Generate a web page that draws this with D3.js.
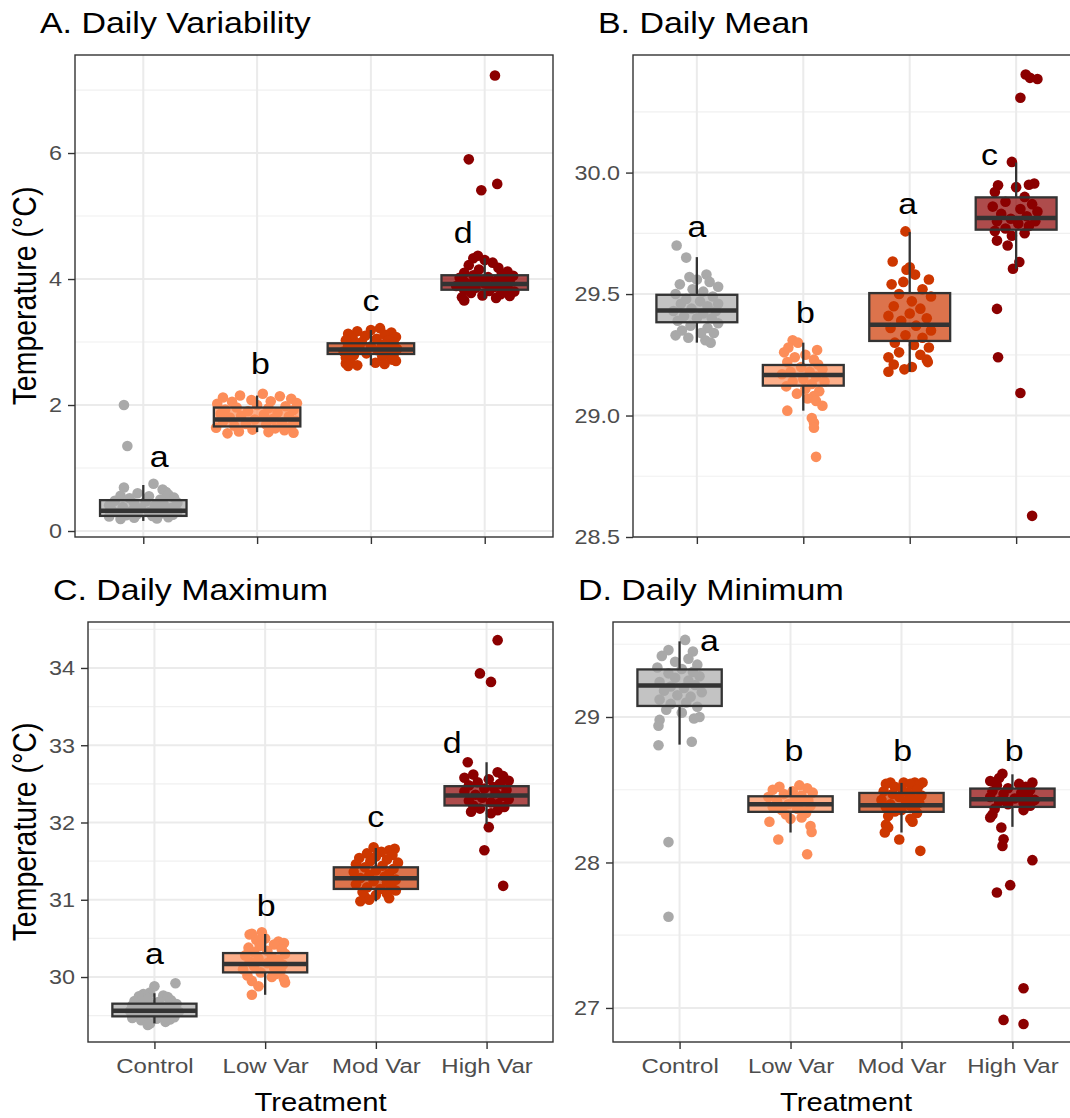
<!DOCTYPE html>
<html>
<head>
<meta charset="utf-8">
<script src="https://cdn.jsdelivr.net/npm/d3@7"></script>
<style>
  body { margin: 0; background: #fff; }
  text { font-family: "Liberation Sans", Arial, Helvetica, sans-serif; }
</style>
</head>
<body>
<svg id="chart" width="1070" height="1118"></svg>
<script>
// ---- data ---------------------------------------------------------------
const treatments = ["Control", "Low Var", "Mod Var", "High Var"];
const pointColors = ["#A9A9A9", "#FC8D59", "#CD3700", "#8B0000"];

// tick labels for each panel
const variabilityTicks = [0, 2, 4, 6];
const meanTicks = [28.5, 29.0, 29.5, 30.0];
const maximumTicks = [30, 31, 32, 33, 34];
const minimumTicks = [27, 28, 29];

// boxplot summaries per treatment: [lower whisker, Q1, median, Q3, upper whisker]
const variabilityBoxes = [
  [0.16, 0.24, 0.32, 0.49, 0.73],
  [1.57, 1.66, 1.77, 1.96, 2.15],
  [2.63, 2.81, 2.88, 2.98, 3.19],
  [3.69, 3.83, 3.92, 4.06, 4.33]
];
const meanBoxes = [
  [29.30, 29.384, 29.432, 29.497, 29.652],
  [29.02, 29.123, 29.167, 29.208, 29.30],
  [29.18, 29.307, 29.374, 29.504, 29.755],
  [29.604, 29.765, 29.813, 29.898, 30.041]
];
const maximumBoxes = [
  [29.40, 29.491, 29.564, 29.655, 29.79],
  [29.77, 30.06, 30.17, 30.31, 30.557],
  [30.98, 31.14, 31.28, 31.42, 31.67],
  [31.98, 32.22, 32.35, 32.47, 32.78]
];
const minimumBoxes = [
  [28.81, 29.076, 29.217, 29.327, 29.52],
  [28.206, 28.348, 28.40, 28.455, 28.52],
  [28.206, 28.348, 28.394, 28.478, 28.547],
  [28.245, 28.382, 28.435, 28.508, 28.606]
];

// daily values per treatment: [temperature, jitter offset in category units]
const variabilityPoints = [
  [[2.00,-0.17],[1.35,-0.14],[0.75,0.09],[0.69,-0.17],[0.66,0.17],[0.62,0.2],[0.6,-0.05],[0.58,0.22],[0.56,-0.2],[0.55,0.05],[0.53,0.27],[0.52,-0.12],[0.5,0.15],[0.48,-0.25],[0.47,0.02],[0.45,0.3],[0.44,-0.08],[0.42,0.18],[0.41,-0.3],[0.4,0.1],[0.38,-0.18],[0.37,0.25],[0.36,-0.02],[0.35,0.12],[0.34,-0.28],[0.33,0.2],[0.32,-0.1],[0.31,0.3],[0.3,0.05],[0.29,-0.22],[0.28,0.16],[0.27,-0.05],[0.26,0.26],[0.25,-0.15],[0.24,0.08],[0.23,-0.3],[0.22,0.22],[0.21,-0.08],[0.2,0.12],[0.19,-0.2]],
  [[2.18,0.05],[2.15,-0.15],[2.14,0.2],[2.12,-0.3],[2.1,0.3],[2.08,-0.05],[2.06,0.12],[2.05,-0.22],[2.03,0.35],[2.02,-0.35],[2.0,0.0],[1.98,0.25],[1.96,-0.18],[1.95,0.1],[1.93,-0.28],[1.92,0.32],[1.9,-0.08],[1.88,0.18],[1.86,-0.32],[1.85,0.06],[1.83,-0.14],[1.82,0.28],[1.8,-0.24],[1.78,0.14],[1.77,-0.02],[1.75,0.34],[1.74,-0.3],[1.72,0.22],[1.7,-0.1],[1.69,0.08],[1.67,-0.2],[1.66,0.3],[1.64,-0.36],[1.63,0.16],[1.61,-0.04],[1.6,0.24],[1.58,-0.16],[1.57,0.1],[1.56,0.32],[1.55,-0.26]],
  [[3.22,0.08],[3.19,0.0],[3.17,-0.12],[3.15,0.18],[3.13,-0.2],[3.12,0.12],[3.1,-0.05],[3.08,0.22],[3.06,-0.16],[3.05,0.05],[3.03,-0.22],[3.02,0.15],[3.0,-0.08],[2.99,0.2],[2.97,-0.14],[2.96,0.1],[2.94,-0.2],[2.93,0.0],[2.92,0.17],[2.9,-0.1],[2.89,0.23],[2.88,-0.18],[2.87,0.06],[2.85,-0.24],[2.84,0.14],[2.82,-0.04],[2.8,0.2],[2.79,-0.15],[2.77,0.1],[2.75,-0.22],[2.74,0.18],[2.72,0.19],[2.7,0.22],[2.69,-0.18],[2.67,0.04],[2.66,-0.22],[2.65,0.12],[2.63,-0.12],[2.62,-0.2]],
  [[7.23,0.09],[5.90,-0.14],[5.51,0.11],[5.41,-0.03],[4.37,-0.06],[4.33,-0.1],[4.3,0.0],[4.26,0.07],[4.22,-0.14],[4.18,0.12],[4.15,-0.05],[4.12,0.2],[4.1,-0.18],[4.08,0.15],[4.06,-0.1],[4.05,0.25],[4.03,0.03],[4.02,-0.22],[4.0,0.18],[3.99,-0.05],[3.97,0.1],[3.96,-0.18],[3.95,0.22],[3.93,0.0],[3.92,-0.12],[3.9,0.15],[3.89,-0.25],[3.87,0.08],[3.86,-0.08],[3.84,0.2],[3.83,-0.18],[3.81,0.04],[3.8,0.26],[3.78,-0.12],[3.76,0.14],[3.74,-0.02],[3.73,0.22],[3.71,-0.2],[3.7,0.1],[3.66,-0.18]]
];
const meanPoints = [
  [[29.70,-0.19],[29.65,-0.10],[29.58,0.09],[29.57,-0.07],[29.56,0.0],[29.55,0.12],[29.54,-0.16],[29.53,0.2],[29.52,-0.04],[29.51,0.06],[29.5,-0.2],[29.49,0.15],[29.48,-0.1],[29.47,0.03],[29.46,0.2],[29.46,-0.15],[29.45,0.1],[29.44,-0.05],[29.43,0.18],[29.43,-0.22],[29.42,0.06],[29.41,-0.12],[29.4,0.14],[29.4,0.0],[29.39,-0.18],[29.38,0.2],[29.37,-0.06],[29.36,0.1],[29.35,-0.14],[29.34,0.04],[29.34,0.16],[29.33,-0.2],[29.32,-0.08],[29.31,0.08],[29.30,0.13]],
  [[29.31,-0.10],[29.30,-0.05],[29.28,-0.14],[29.27,0.13],[29.26,-0.18],[29.25,0.02],[29.24,-0.08],[29.23,0.1],[29.22,-0.15],[29.21,0.14],[29.2,-0.02],[29.19,0.18],[29.18,-0.12],[29.18,0.06],[29.17,-0.2],[29.16,0.12],[29.15,0.0],[29.14,-0.1],[29.14,0.2],[29.13,0.08],[29.12,-0.16],[29.11,0.02],[29.1,0.15],[29.09,-0.06],[29.08,0.1],[29.07,0.04],[29.06,0.12],[29.04,0.18],[29.02,-0.15],[28.99,0.08],[28.97,0.1],[28.95,0.1],[28.83,0.12]],
  [[29.758,-0.04],[29.634,-0.16],[29.61,0.0],[29.6,-0.03],[29.58,0.05],[29.56,0.18],[29.55,-0.06],[29.54,-0.17],[29.52,0.12],[29.5,-0.1],[29.49,0.2],[29.47,0.02],[29.45,-0.15],[29.44,0.1],[29.42,0.0],[29.41,-0.2],[29.4,0.16],[29.39,-0.08],[29.37,0.06],[29.36,-0.18],[29.35,0.2],[29.33,-0.04],[29.32,0.12],[29.3,-0.14],[29.29,0.04],[29.28,0.18],[29.26,-0.1],[29.25,0.1],[29.24,-0.2],[29.23,0.16],[29.22,0.17],[29.21,-0.15],[29.2,0.02],[29.19,-0.05],[29.18,-0.2]],
  [[30.404,0.09],[30.39,0.13],[30.385,0.2],[30.308,0.04],[30.044,-0.04],[29.955,0.17],[29.95,0.12],[29.948,-0.17],[29.94,0.0],[29.92,-0.2],[29.9,0.08],[29.88,-0.1],[29.87,0.15],[29.86,-0.22],[29.85,0.04],[29.84,0.2],[29.83,-0.14],[29.82,0.1],[29.81,-0.05],[29.8,0.18],[29.8,-0.18],[29.79,0.02],[29.78,0.12],[29.77,-0.1],[29.76,-0.2],[29.75,0.08],[29.74,-0.04],[29.72,-0.18],[29.70,-0.08],[29.632,0.03],[29.604,-0.03],[29.439,-0.18],[29.24,-0.17],[29.093,0.04],[28.587,0.15]]
];
const maximumPoints = [
  [[29.92,0.19],[29.88,0.0],[29.8,-0.04],[29.78,-0.1],[29.76,0.08],[29.75,-0.14],[29.74,0.12],[29.72,-0.06],[29.7,0.15],[29.69,-0.18],[29.68,0.04],[29.66,-0.1],[29.65,0.2],[29.64,0.0],[29.63,-0.2],[29.62,0.1],[29.6,-0.05],[29.59,0.16],[29.58,-0.14],[29.57,0.06],[29.56,-0.22],[29.55,0.22],[29.54,-0.02],[29.53,0.12],[29.52,-0.16],[29.5,0.08],[29.49,-0.08],[29.48,0.18],[29.47,-0.2],[29.46,0.02],[29.45,0.14],[29.44,-0.12],[29.42,0.1],[29.4,-0.04],[29.38,-0.06]],
  [[30.58,-0.03],[30.56,-0.12],[30.55,-0.14],[30.5,0.0],[30.48,-0.08],[30.46,0.12],[30.44,0.17],[30.42,0.08],[30.4,-0.05],[30.38,-0.15],[30.36,0.15],[30.34,0.02],[30.32,-0.1],[30.3,0.18],[30.28,-0.18],[30.26,0.06],[30.24,-0.06],[30.22,0.12],[30.2,-0.14],[30.18,0.02],[30.16,0.16],[30.14,-0.1],[30.12,0.08],[30.1,-0.2],[30.08,0.14],[30.06,-0.04],[30.04,0.1],[30.02,-0.16],[30.0,0.06],[29.97,0.17],[29.95,-0.12],[29.93,0.18],[29.88,-0.06],[29.77,-0.12]],
  [[31.68,-0.02],[31.66,0.17],[31.64,0.12],[31.62,0.05],[31.6,-0.08],[31.58,0.15],[31.56,0.0],[31.54,-0.15],[31.52,0.1],[31.5,-0.05],[31.48,0.2],[31.46,-0.18],[31.44,0.06],[31.42,-0.1],[31.4,0.16],[31.38,0.0],[31.36,-0.2],[31.34,0.12],[31.32,-0.06],[31.3,0.08],[31.28,-0.14],[31.26,0.18],[31.24,-0.02],[31.22,0.1],[31.2,-0.18],[31.18,0.14],[31.16,-0.08],[31.14,0.04],[31.12,0.18],[31.1,-0.12],[31.08,0.1],[31.06,0.0],[31.04,-0.1],[31.02,0.12],[31.0,-0.06],[30.98,-0.14]],
  [[34.36,0.1],[33.93,-0.06],[33.82,0.04],[32.78,-0.17],[32.65,0.1],[32.62,-0.12],[32.6,0.15],[32.58,-0.2],[32.56,0.02],[32.54,0.2],[32.52,-0.08],[32.5,0.12],[32.48,-0.16],[32.46,0.06],[32.44,-0.02],[32.42,0.18],[32.4,-0.2],[32.38,0.08],[32.36,-0.1],[32.34,0.14],[32.32,-0.04],[32.3,0.2],[32.28,-0.16],[32.26,0.04],[32.24,0.1],[32.22,-0.12],[32.2,0.16],[32.18,-0.06],[32.16,0.1],[32.14,-0.14],[32.12,0.04],[31.94,0.02],[31.64,-0.02],[31.18,0.15]]
];
const minimumPoints = [
  [[29.53,0.05],[29.46,-0.1],[29.45,0.12],[29.42,-0.16],[29.4,0.08],[29.38,-0.04],[29.36,0.16],[29.34,-0.2],[29.33,0.02],[29.31,0.12],[29.3,-0.1],[29.28,0.18],[29.27,-0.04],[29.25,0.08],[29.24,-0.18],[29.22,0.14],[29.21,-0.08],[29.2,0.04],[29.18,-0.14],[29.17,0.2],[29.15,-0.02],[29.14,0.1],[29.12,-0.18],[29.1,0.06],[29.09,-0.08],[29.07,0.16],[29.05,-0.12],[29.03,0.02],[29.0,0.18],[28.99,0.13],[28.98,-0.18],[28.94,-0.19],[28.83,0.11],[28.806,-0.19],[28.14,-0.1],[27.627,-0.1]],
  [[28.53,0.08],[28.52,-0.1],[28.51,0.15],[28.5,-0.16],[28.49,0.02],[28.48,0.2],[28.47,-0.06],[28.46,0.1],[28.45,-0.2],[28.44,0.04],[28.43,0.16],[28.42,-0.12],[28.41,0.08],[28.4,-0.02],[28.39,0.18],[28.38,-0.16],[28.37,0.06],[28.36,-0.08],[28.35,0.12],[28.34,0.14],[28.33,-0.04],[28.31,0.1],[28.3,0.0],[28.28,-0.19],[28.25,0.18],[28.21,0.19],[28.158,-0.11],[28.057,0.15]],
  [[28.55,-0.1],[28.55,0.02],[28.55,0.12],[28.55,0.19],[28.54,-0.14],[28.54,0.08],[28.53,0.16],[28.52,-0.06],[28.51,0.0],[28.5,0.14],[28.49,-0.16],[28.48,0.06],[28.47,-0.08],[28.46,0.18],[28.45,-0.02],[28.44,0.1],[28.43,-0.18],[28.42,0.04],[28.41,0.16],[28.4,-0.1],[28.39,0.08],[28.38,-0.14],[28.37,0.12],[28.36,0.0],[28.35,-0.06],[28.34,0.14],[28.32,-0.12],[28.3,0.08],[28.28,0.1],[28.26,-0.14],[28.24,-0.12],[28.206,-0.15],[28.158,-0.02],[28.08,0.17]],
  [[28.61,-0.09],[28.58,-0.12],[28.56,-0.2],[28.55,0.18],[28.54,0.06],[28.53,-0.14],[28.52,0.12],[28.51,-0.04],[28.5,0.16],[28.49,-0.18],[28.48,0.08],[28.47,-0.08],[28.46,0.14],[28.45,-0.2],[28.44,0.02],[28.43,0.2],[28.42,-0.12],[28.41,0.1],[28.4,-0.04],[28.39,0.16],[28.37,-0.16],[28.36,0.1],[28.33,-0.18],[28.31,-0.2],[28.24,-0.1],[28.16,-0.08],[28.114,-0.09],[28.016,0.18],[27.844,-0.02],[27.794,-0.14],[27.135,0.1],[26.918,-0.08],[26.89,0.1]]
];

// significance letters: [letter, treatment index, horizontal offset, baseline value]
const variabilityLetters = [["a",0,0.14,1.01],["b",1,0.03,2.50],["c",2,0.0,3.50],["d",3,-0.19,4.57]];
const meanLetters = [["a",0,0.0,29.735],["b",1,0.02,29.38],["a",2,-0.02,29.828],["c",3,-0.25,30.033]];
const maximumLetters = [["a",0,0.0,30.17],["b",1,0.01,30.79],["c",2,0.0,31.94],["d",3,-0.31,32.90]];
const minimumLetters = [["a",0,0.27,29.457],["b",1,0.03,28.70],["b",2,0.01,28.70],["b",3,0.015,28.70]];

// ---- layout ---------------------------------------------------------------
const SX = 1.17; // horizontal stretch of the glyphs
const panels = [
  { title: "A. Daily Variability", x0: 75, x1: 553, y0: 55, y1: 537, domain: [-0.095, 7.556],
    ticks: variabilityTicks, fmt: d3.format("d"), boxes: variabilityBoxes, points: variabilityPoints,
    letters: variabilityLetters, yTitle: true, xLabels: false },
  { title: "B. Daily Mean", x0: 633, x1: 1080, y0: 55, y1: 537, domain: [28.5, 30.484],
    ticks: meanTicks, fmt: d3.format(".1f"), boxes: meanBoxes, points: meanPoints,
    letters: meanLetters, yTitle: false, xLabels: false },
  { title: "C. Daily Maximum", x0: 88, x1: 553, y0: 622, y1: 1042, domain: [29.159, 34.595],
    ticks: maximumTicks, fmt: d3.format("d"), boxes: maximumBoxes, points: maximumPoints,
    letters: maximumLetters, yTitle: true, xLabels: true },
  { title: "D. Daily Minimum", x0: 613, x1: 1079, y0: 622, y1: 1042, domain: [26.766, 29.653],
    ticks: minimumTicks, fmt: d3.format("d"), boxes: minimumBoxes, points: minimumPoints,
    letters: minimumLetters, yTitle: false, xLabels: true }
];

const svg = d3.select("#chart");

function label(g, x, y, str, size, opts = {}) {
  return g.append("text")
    .attr("transform", `translate(${x},${y}) scale(${SX},1)` + (opts.rotate ? ` rotate(${opts.rotate})` : ""))
    .attr("text-anchor", opts.anchor || "start")
    .attr("font-size", size)
    .attr("fill", opts.fill || "#000")
    .text(str);
}

panels.forEach(p => {
  const g = svg.append("g");
  const x = d3.scalePoint().domain(treatments).range([p.x0, p.x1]).padding(0.6);
  const step = x.step();
  const y = d3.scaleLinear().domain(p.domain).range([p.y1, p.y0]);

  // grid: minor lines halfway between major ticks
  const tStep = p.ticks[1] - p.ticks[0];
  const minor = d3.range(p.ticks[0] - tStep / 2, p.domain[1], tStep)
    .filter(v => v > p.domain[0] && v < p.domain[1]);
  g.append("g").selectAll("line").data(minor).join("line")
    .attr("x1", p.x0).attr("x2", p.x1).attr("y1", d => y(d)).attr("y2", d => y(d))
    .attr("stroke", "#F0F0F0").attr("stroke-width", 1.2);
  g.append("g").selectAll("line").data(p.ticks).join("line")
    .attr("x1", p.x0).attr("x2", p.x1).attr("y1", d => y(d)).attr("y2", d => y(d))
    .attr("stroke", "#EBEBEB").attr("stroke-width", 2);
  g.append("g").selectAll("line").data(treatments).join("line")
    .attr("x1", d => x(d)).attr("x2", d => x(d)).attr("y1", p.y0).attr("y2", p.y1)
    .attr("stroke", "#EBEBEB").attr("stroke-width", 2);

  // jittered daily points
  treatments.forEach((t, i) => {
    g.append("g").selectAll("circle").data(p.points[i]).join("circle")
      .attr("cx", d => x(t) + d[1] * step)
      .attr("cy", d => y(d[0]))
      .attr("r", 5.3)
      .attr("fill", pointColors[i]);
  });

  // boxplots on top of the points
  const bw = 0.76 * step;
  p.boxes.forEach((b, i) => {
    const cx = x(treatments[i]);
    const [lo, q1, med, q3, hi] = b;
    const bg = g.append("g").attr("stroke", "#333333");
    bg.append("line").attr("x1", cx).attr("x2", cx).attr("y1", y(hi)).attr("y2", y(q3)).attr("stroke-width", 2.3);
    bg.append("line").attr("x1", cx).attr("x2", cx).attr("y1", y(q1)).attr("y2", y(lo)).attr("stroke-width", 2.3);
    bg.append("rect")
      .attr("x", cx - bw / 2).attr("width", bw)
      .attr("y", y(q3)).attr("height", y(q1) - y(q3))
      .attr("fill", pointColors[i]).attr("fill-opacity", 0.7)
      .attr("stroke-width", 2.3);
    bg.append("line").attr("x1", cx - bw / 2).attr("x2", cx + bw / 2)
      .attr("y1", y(med)).attr("y2", y(med)).attr("stroke-width", 4.5);
  });

  // significance letters
  p.letters.forEach(([s, i, dx, v]) => {
    label(g, x(treatments[i]) + dx * step, y(v), s, 29, { anchor: "middle" });
  });

  // panel border
  g.append("rect").attr("x", p.x0).attr("y", p.y0)
    .attr("width", p.x1 - p.x0).attr("height", p.y1 - p.y0)
    .attr("fill", "none").attr("stroke", "#333333").attr("stroke-width", 1.4);

  // y axis
  const ya = g.append("g").attr("transform", `translate(${p.x0},0)`)
    .call(d3.axisLeft(y).tickValues(p.ticks).tickSize(7).tickFormat(p.fmt));
  ya.select(".domain").remove();
  ya.selectAll(".tick line").attr("stroke", "#333333").attr("stroke-width", 1.4);
  ya.selectAll(".tick text")
    .attr("x", null).attr("dy", null)
    .attr("transform", `translate(-13,0) scale(${SX},1)`)
    .attr("dominant-baseline", "central")
    .attr("font-size", 20).attr("font-family", null).attr("fill", "#4D4D4D");

  // x axis
  const xa = g.append("g").attr("transform", `translate(0,${p.y1})`)
    .call(d3.axisBottom(x).tickSize(7).tickFormat(p.xLabels ? d => d : () => ""));
  xa.select(".domain").remove();
  xa.selectAll(".tick line").attr("stroke", "#333333").attr("stroke-width", 1.4);
  xa.selectAll(".tick text")
    .attr("y", null).attr("dy", null)
    .attr("transform", `translate(0,31) scale(${SX},1)`)
    .attr("font-size", 20.5).attr("font-family", null).attr("fill", "#4D4D4D");

  // titles
  label(svg, p.x0 - 35, p.y0 - 22, p.title, 29);
  if (p.yTitle) {
    label(svg, 36, (p.y0 + p.y1) / 2, "Temperature (°C)", 28.5, { anchor: "middle", rotate: -90 });
  }
  if (p.xLabels) {
    label(svg, (p.x0 + p.x1) / 2, 1111, "Treatment", 25, { anchor: "middle" });
  }
});
</script>
</body>
</html>
